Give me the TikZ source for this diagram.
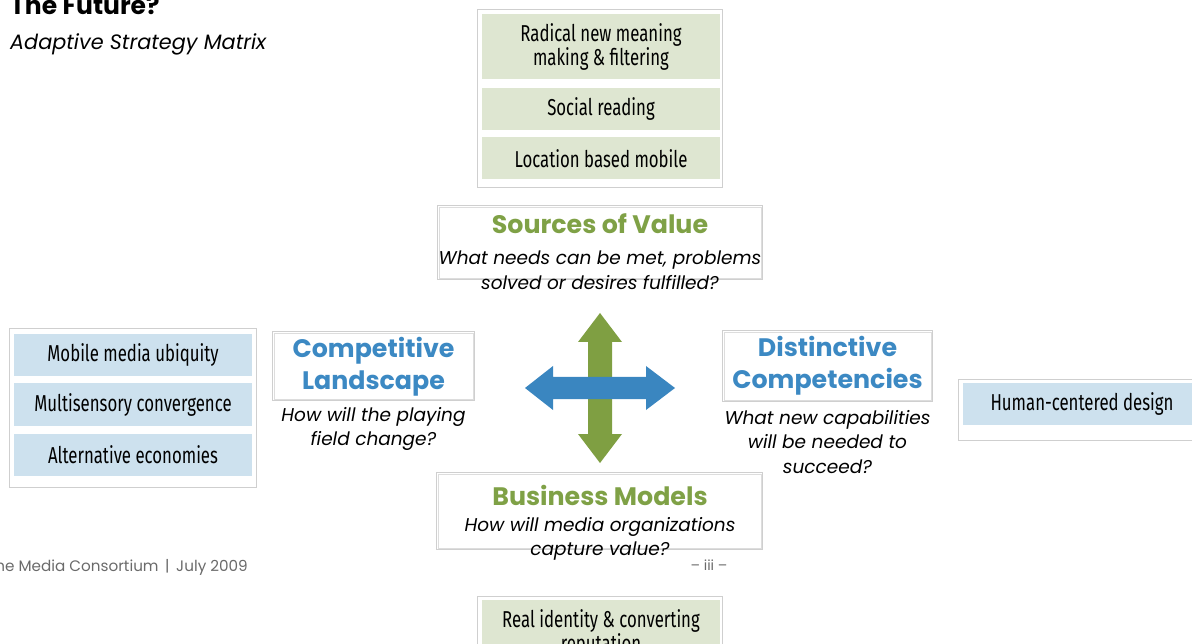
\documentclass[tikz,border=0pt]{standalone}
\usepackage{fontspec}
\setmainfont{Poppins}
\newfontfamily\condfont[FakeStretch=0.73]{Fira Sans}
\definecolor{framegray}{HTML}{CFCFCF}
\definecolor{greenfill}{HTML}{DEE6D1}
\definecolor{bluefill}{HTML}{CDE1EE}
\definecolor{greentext}{HTML}{7FA146}
\definecolor{bluetext}{HTML}{3C89C3}
\definecolor{arrowgreen}{HTML}{7F9F42}
\definecolor{arrowblue}{HTML}{3A86C0}
\definecolor{footgray}{HTML}{6A6A6A}
\tikzset{
  group/.style={draw=framegray, line width=0.7pt, fill=white, inner sep=0pt},
  item/.style={fill=#1, minimum width=238pt, inner sep=0pt, align=center,
    font=\condfont\fontsize{23}{24}\selectfont},
  panel/.style={draw=framegray, line width=0.7pt, inner sep=0pt},
  panelin/.style={draw=framegray!70, line width=0.6pt},
  heading/.style={text=#1, font=\bfseries\fontsize{25.3}{32}\selectfont, align=center, inner sep=0pt},
  question/.style={font=\itshape\fontsize{18.5}{24.5}\selectfont, align=center, inner sep=0pt},
}
\begin{document}
\begin{tikzpicture}[x=1pt, y=-1pt]
\useasboundingbox (0,0) rectangle (1192,644);
\clip (0,0) rectangle (1192,644);

% slide heading and footer
\node[anchor=base west, inner sep=0pt, font=\bfseries\fontsize{25}{30}\selectfont] (title) at (10,15) {The Future?};
\node[anchor=base west, inner sep=0pt, font=\itshape\fontsize{20.8}{25}\selectfont] (subtitle) at (10,50) {Adaptive Strategy Matrix};
\node[anchor=base east, inner sep=0pt, text=footgray, font=\fontsize{15.2}{18}\selectfont] (footer) at (248,571) {The Media Consortium \,|\, July 2009};
\node[anchor=base, inner sep=0pt, text=footgray, font=\fontsize{14}{16}\selectfont] (pageno) at (709,570) {-- iii --};

% sources of value: item column above
\node[group, minimum width=245pt, minimum height=178pt] (topgrp) at (599.5,98) {};
\node[item=greenfill, minimum height=65pt] (radical) at (601,46.5) {Radical new meaning\\making \& filtering};
\node[item=greenfill, minimum height=42pt] (social) at (601,109) {Social reading};
\node[item=greenfill, minimum height=42pt] (location) at (601,158.5) {Location based mobile};

\node[panel, minimum width=325pt, minimum height=74pt] (sov) at (600,242.5) {};
\draw[panelin] ([shift={(2,2)}]sov.north west) rectangle ([shift={(-2,-2)}]sov.south east);
\node[heading=greentext] (sovtitle) at (600,224) {Sources of Value};
\node[question] (sovq) at (600,270) {What needs can be met, problems\\solved or desires fulfilled?};

% competitive landscape: item column on the left
\node[group, minimum width=247pt, minimum height=159pt] (leftgrp) at (132.5,407.5) {};
\node[item=bluefill, minimum height=42pt] (mobile) at (133,355) {Mobile media ubiquity};
\node[item=bluefill, minimum height=42pt] (multi) at (133,404.5) {Multisensory convergence};
\node[item=bluefill, minimum height=42pt] (altecon) at (133,454.5) {Alternative economies};

\node[panel, minimum width=202pt, minimum height=69pt] (comp) at (373.5,366) {};
\draw[panelin] ([shift={(2,2)}]comp.north west) rectangle ([shift={(-2,-2)}]comp.south east);
\node[heading=bluetext] (comptitle) at (373.5,367) {Competitive\\Landscape};
\node[question] (compq) at (373.5,429) {How will the playing\\field change?};

% distinctive competencies: item column on the right
\node[group, minimum width=245pt, minimum height=61pt] (rightgrp) at (1080.5,409.5) {};
\node[item=bluefill, minimum height=42pt] (human) at (1082,404) {Human-centered design};

\node[panel, minimum width=210pt, minimum height=71pt] (dist) at (827.5,366) {};
\draw[panelin] ([shift={(2,2)}]dist.north west) rectangle ([shift={(-2,-2)}]dist.south east);
\node[heading=bluetext] (disttitle) at (827.5,366) {Distinctive\\Competencies};
\node[question] (distq) at (827.5,442) {What new capabilities\\will be needed to\\succeed?};

% business models: item column below
\node[panel, minimum width=326pt, minimum height=77pt] (biz) at (599.5,511) {};
\draw[panelin] ([shift={(2,2)}]biz.north west) rectangle ([shift={(-2,-2)}]biz.south east);
\node[heading=greentext] (biztitle) at (600,495) {Business Models};
\node[question] (bizq) at (600,539) {How will media organizations\\capture value?};

\node[group, minimum width=245pt, minimum height=80pt] (botgrp) at (599.5,636) {};
\node[item=greenfill, minimum height=65pt] (realid) at (601,632.5) {Real identity \& converting\\reputation};

% four-way arrows in the middle
\fill[arrowgreen] (600,313) -- (622,342) -- (612,342) -- (612,434) -- (622,434) -- (600,463)
  -- (578,434) -- (588,434) -- (588,342) -- (578,342) -- cycle;
\fill[arrowblue] (525,388) -- (553,366) -- (553,377) -- (646,377) -- (646,366) -- (675,388)
  -- (646,410) -- (646,399) -- (553,399) -- (553,410) -- cycle;
\end{tikzpicture}
\end{document}
